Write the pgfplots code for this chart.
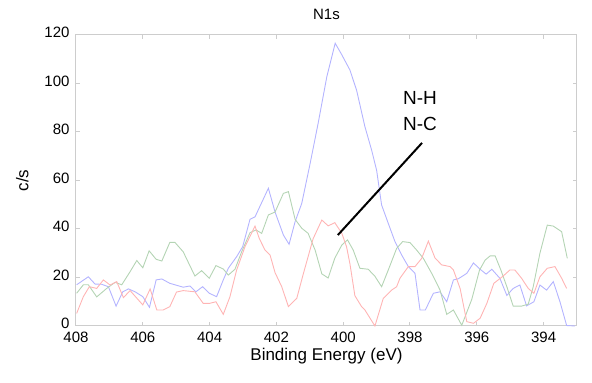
\documentclass[border=0pt]{standalone}
\usepackage{pgfplots}
\pgfplotsset{compat=1.18}
\usepackage{fontspec}
\setmainfont{Liberation Sans}
\definecolor{lblue}{RGB}{180,180,255}
\definecolor{lgreen}{RGB}{180,212,180}
\definecolor{lred}{RGB}{255,180,180}
\definecolor{framegray}{RGB}{205,205,205}
\begin{document}
\begin{tikzpicture}
\begin{axis}[
  scale only axis, width=501pt, height=291pt,
  x dir=reverse, xmin=393, xmax=408, ymin=0, ymax=120,
  xtick={394,396,...,408}, ytick={0,20,...,120},
  axis line style={framegray, line width=1pt},
  tick style={framegray, line width=1pt},
  major tick length=4pt, tick align=inside,
  /pgf/number format/assume math mode=true,
  tick label style={font=\fontsize{15}{18}\selectfont, black},
  yticklabel style={xshift=-3pt, yshift=2.5pt},
  xticklabel style={yshift=-2pt},
  xlabel={Binding Energy (eV)}, ylabel={c/s}, title={N1s},
  ylabel shift=9pt,
  xlabel style={yshift=1pt},
  label style={font=\fontsize{17}{19}\selectfont},
  title style={font=\fontsize{15}{17}\selectfont, yshift=6pt},
  every axis plot/.append style={line width=0.9pt, mark=none},
  clip=false,
]
% blue
\addplot[lblue] coordinates {
(407.98,17) (407.63,20.3) (407.43,17.3) (407.23,17.2) (407.03,16.2) (406.80,8.2)
(406.60,14.1) (406.43,15.3) (406.23,14.1) (406.00,12.1) (405.80,7.7) (405.60,19)
(405.43,19.4) (405.19,17.6) (404.79,16) (404.59,16.5) (404.41,14.1) (404.21,16.2)
(404.01,13.5) (403.79,12.1) (403.59,19) (403.44,23.8) (403.19,28.6) (403.01,32.7)
(402.79,44) (402.64,45) (402.24,56.8) (402.04,47) (401.79,37.5) (401.62,33.7)
(401.44,43) (401.24,50.6) (400.99,67) (400.75,83.6) (400.49,102.8) (400.24,116.6)
(400.04,111.8) (399.80,105.6) (399.60,97.3) (399.35,82.2) (399.15,72.6) (399.00,64.3)
(398.85,49.9) (398.65,42.3) (398.45,34.8) (398.25,29.3) (398.05,24.5) (397.85,21.7)
(397.70,6.6) (397.54,6.6) (397.30,13.5) (397.10,14.1) (396.90,10) (396.70,19)
(396.55,19.5) (396.30,21.7) (396.10,26) (395.90,23.4) (395.72,21.4) (395.55,23.4)
(395.31,19.7) (395.10,12.6) (394.91,15.5) (394.71,16.9) (394.51,8.3) (394.29,10)
(394.11,16.9) (393.91,14.8) (393.71,18.3) (393.51,10) (393.31,0.2) (393.06,0)
};
% green
\addplot[lgreen] coordinates {
(407.98,13.5) (407.78,17) (407.63,17) (407.38,12) (407.08,15.5) (406.83,18)
(406.63,17) (406.38,22.4) (406.18,27) (406.00,24) (405.81,31) (405.60,27.5)
(405.43,26.8) (405.19,34.5) (405.04,34.5) (404.79,30.6) (404.44,20.6) (404.24,22.8)
(404.01,19.7) (403.81,24.9) (403.59,23.5) (403.44,21) (403.24,23.4) (403.04,30.6)
(402.79,38.5) (402.61,39.6) (402.44,38.2) (402.24,45.8) (402.04,47) (401.79,54.7)
(401.64,55.4) (401.44,44) (401.24,40.3) (401.05,38.2) (400.84,31.3) (400.64,21.5)
(400.45,19.8) (400.25,28) (400.04,33.4) (399.87,35.5) (399.70,31.3) (399.50,23.8)
(399.25,23.4) (399.05,20.5) (398.85,16.2) (398.65,23.1) (398.40,32) (398.22,34.8)
(398.00,34.4) (397.80,31.3) (397.60,27.9) (397.35,21.7) (397.10,14.8) (396.90,4.8)
(396.70,6.6) (396.45,0.3) (396.15,11) (395.92,23) (395.75,27.2) (395.60,28.9)
(395.45,28.9) (395.28,23.1) (395.10,16.2) (394.91,8.2) (394.66,8.2) (394.46,9)
(394.31,16.2) (394.11,30) (393.89,41.6) (393.71,41.2) (393.46,38.9) (393.29,27.9)
};
% red
\addplot[lred] coordinates {
(407.98,5.2) (407.78,12.1) (407.60,16.2) (407.38,15.5) (407.18,19) (406.98,16.9)
(406.78,18.3) (406.58,11.7) (406.38,14.6) (406.00,8.7) (405.78,15.3) (405.58,6.6)
(405.39,6.6) (405.19,8) (404.99,14) (404.79,14.6) (404.44,14.1) (404.19,9.3)
(404.01,9.3) (403.81,10) (403.59,4.8) (403.39,12.1) (403.19,23.1) (402.94,32.7)
(402.64,41.2) (402.51,36) (402.34,31.3) (402.19,29.3) (402.04,22) (401.84,16.2)
(401.64,8) (401.39,11.4) (401.19,21.7) (400.90,36) (400.64,43.7) (400.45,41.3)
(400.25,42.6) (400.04,38.2) (399.90,32.7) (399.80,25.8) (399.65,12.5) (399.45,8)
(399.35,6.6) (399.05,0) (398.80,11.4) (398.55,14.8) (398.40,16.2) (398.30,19.7)
(398.05,24.5) (397.85,24.5) (397.65,27.9) (397.45,35) (397.25,28) (397.05,25.2)
(396.80,24.5) (396.70,23.1) (396.50,15.5) (396.30,1.8) (396.10,1.1) (395.90,3.2)
(395.70,9.3) (395.49,17.6) (395.21,20.6) (395.01,23.1) (394.86,23.1) (394.66,19.7)
(394.46,15.5) (394.29,13.5) (394.11,20.3) (393.89,23.8) (393.66,24.5) (393.46,19.7)
(393.31,15.5)
};
% annotation line
\addplot[black, line width=2pt] coordinates {(400.16,37.5) (397.64,75.5)};
\node[font=\fontsize{19}{26}\selectfont, align=center] at (axis cs:397.70,88.5) {N-H\\N-C};
\end{axis}
\pgfresetboundingbox
\path ([shift={(-76pt,-57pt)}]current axis.south west) rectangle ([shift={(15pt,35pt)}]current axis.north east);
\end{tikzpicture}
\end{document}
